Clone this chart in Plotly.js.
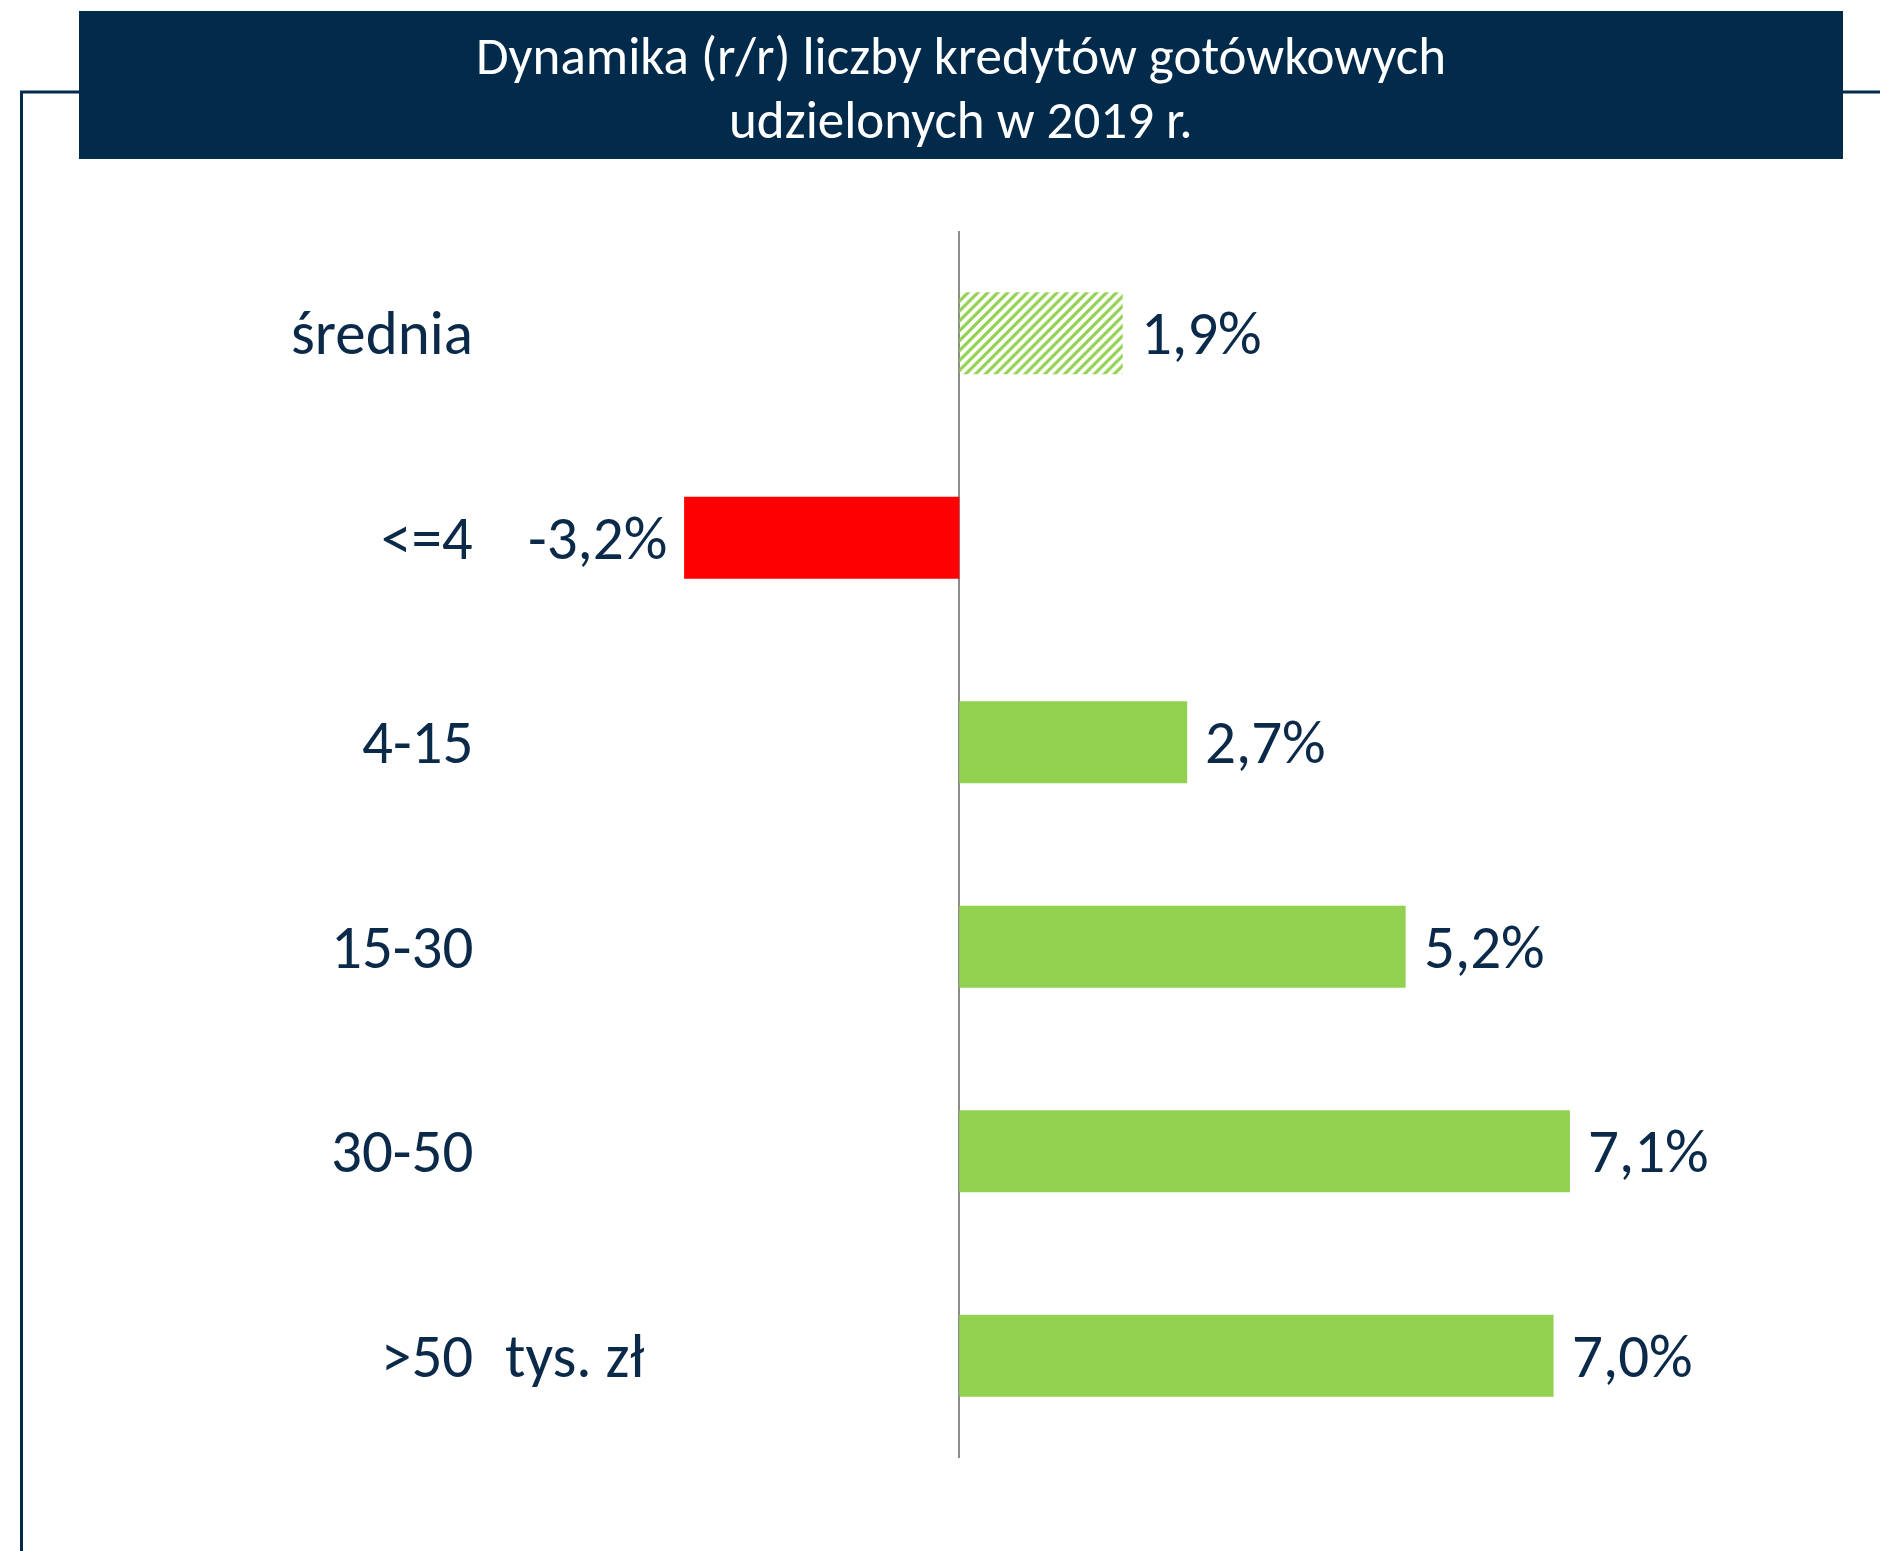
<!DOCTYPE html>
<html><head><meta charset="utf-8">
<script src="https://cdn.plot.ly/plotly-3.0.1.min.js"></script>
<style>html,body{margin:0;padding:0;background:#fff}#chart{width:1880px;height:1551px}</style>
</head><body><div id="chart"></div>
<script>
// ---- data ----
const categories = ["średnia", "<=4", "4-15", "15-30", "30-50", ">50"];
const values = [1.9, -3.2, 2.65, 5.19, 7.1, 6.91];
const valueLabels = ["1,9%", "-3,2%", "2,7%", "5,2%", "7,1%", "7,0%"];
const unitLabel = "tys. zł";
const titleLines = ["Dynamika (r/r) liczby kredytów gotówkowych", "udzielonych w 2019 r."];

// ---- layout helpers ----
const W = 1880, H = 1551;
const PT = 231, PB = 1458;            // plot area top/bottom in px
const X0 = 959.3, UNIT = 86.0;        // px of zero, px per 1 %
const py = p => (PB - p) / (PB - PT);
const px = p => p / W;
const NAVY = "#0B2A4A", BOX = "#022A4B", GREEN = "#92D050", RED = "#FF0000";
const FONT = "Carlito, Lato, sans-serif";
const LBL = 61;

const colors = values.map(v => v < 0 ? RED : GREEN);
const shapesPat = categories.map((c, i) => i === 0 ? "/" : "");

const trace = {
  type: "bar", orientation: "h",
  y: categories, x: values,
  marker: {
    color: colors,
    line: {width: 0},
    pattern: {shape: shapesPat, size: 7, solidity: 0.45, fillmode: "replace"}
  },
  hoverinfo: "skip", showlegend: false
};

const annotations = [];
categories.forEach((c, i) => {
  annotations.push({
    x: px(475), xref: "paper", y: c, yref: "y",
    text: c, showarrow: false, xanchor: "right", yanchor: "middle",
    font: {family: FONT, size: LBL, color: NAVY}
  });
  const v = values[i];
  annotations.push({
    x: v, xref: "x", y: c, yref: "y",
    text: valueLabels[i], showarrow: false,
    xanchor: v < 0 ? "right" : "left", yanchor: "middle",
    xshift: v < 0 ? -15 : 16,
    font: {family: FONT, size: LBL, color: NAVY}
  });
});
annotations.push({
  x: px(503), xref: "paper", y: categories[5], yref: "y",
  text: unitLabel, showarrow: false, xanchor: "left", yanchor: "middle",
  font: {family: FONT, size: LBL, color: NAVY}
});
const titleY = [56, 120];
titleLines.forEach((t, i) => annotations.push({
  x: px(961), xref: "paper", y: py(titleY[i]), yref: "paper",
  text: t, showarrow: false, xanchor: "center", yanchor: "middle",
  font: {family: FONT, size: 53, color: "#FFFFFF"}
}));

const shapes = [
  {type: "rect", xref: "paper", yref: "paper", x0: px(79), x1: px(1843), y0: py(11), y1: py(159),
   fillcolor: BOX, line: {width: 0}, layer: "below"},
  {type: "line", xref: "paper", yref: "paper", x0: px(21.5), x1: px(21.5), y0: py(92), y1: py(1560),
   line: {color: BOX, width: 3}},
  {type: "line", xref: "paper", yref: "paper", x0: px(20), x1: px(80), y0: py(92), y1: py(92),
   line: {color: BOX, width: 3}},
  {type: "line", xref: "paper", yref: "paper", x0: px(1842), x1: px(1885), y0: py(92), y1: py(92),
   line: {color: BOX, width: 3}}
];

const layout = {
  width: W, height: H,
  margin: {l: 0, r: 0, t: PT, b: H - PB, pad: 0},
  paper_bgcolor: "#fff", plot_bgcolor: "rgba(0,0,0,0)",
  bargap: 0.6,
  xaxis: {range: [-X0 / UNIT, (W - X0) / UNIT], showgrid: false, showticklabels: false, ticks: "",
          zeroline: true, zerolinecolor: "#8C8C8C", zerolinewidth: 2, fixedrange: true},
  yaxis: {type: "category", categoryorder: "array", categoryarray: categories, autorange: "reversed",
          showgrid: false, showticklabels: false, ticks: "", zeroline: false, fixedrange: true},
  annotations: annotations,
  shapes: shapes
};

Plotly.newPlot("chart", [trace], layout, {displayModeBar: false, staticPlot: true});
</script></body></html>
